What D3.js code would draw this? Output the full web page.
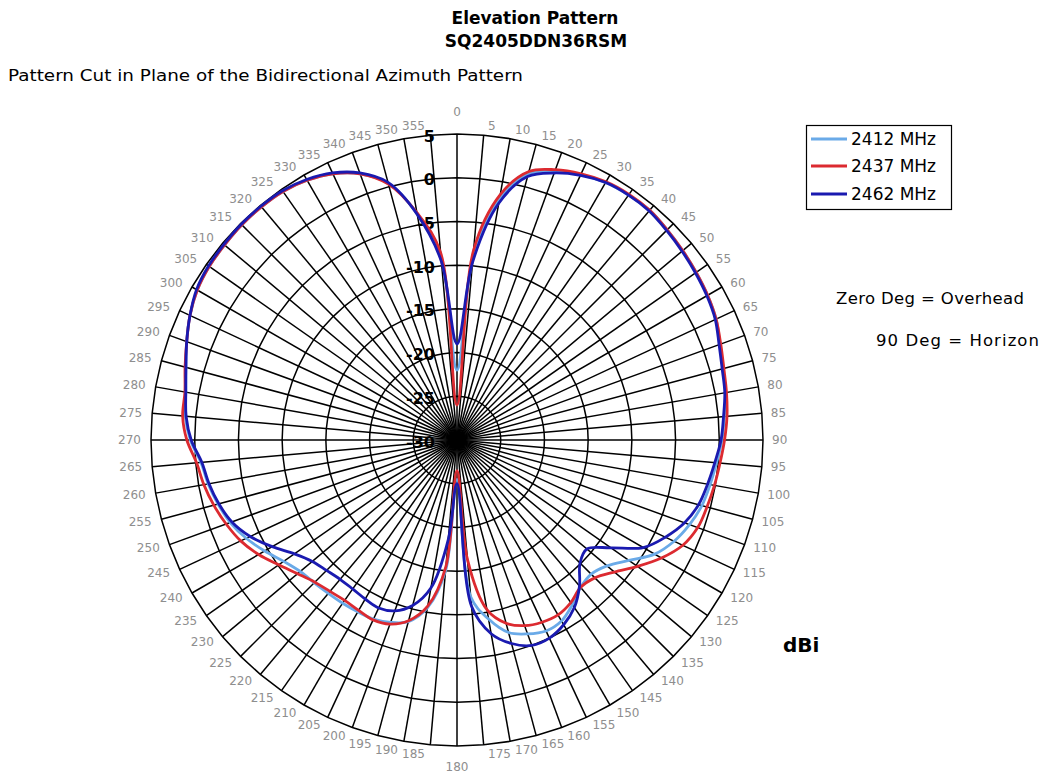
<!DOCTYPE html>
<html><head><meta charset="utf-8">
<script src="https://cdn.jsdelivr.net/npm/d3@7"></script>
<style>body{margin:0;background:#fff} svg{display:block;font-family:"DejaVu Sans",sans-serif}</style>
</head><body>
<svg id="chart" width="1050" height="778"></svg>
<script>
// ---------- data ----------
const angleLabels = [0,5,10,15,20,25,30,35,40,45,50,55,60,65,70,75,80,85,90,95,100,105,110,115,120,125,130,135,140,145,150,155,160,165,170,175,180,185,190,195,200,205,210,215,220,225,230,235,240,245,250,255,260,265,270,275,280,285,290,295,300,305,310,315,320,325,330,335,340,345,350,355];
const radialTicks = [-30,-25,-20,-15,-10,-5,0,5];
const seriesNames = ["2412 MHz","2437 MHz","2462 MHz"];
const seriesColors = ["#6aaae8","#dc2a30","#1a1ab0"];
const s2412 = [-22,-9.2,-2.0,1.5,2.7,3.5,4.0,4.2,4.3,4.0,3.7,3.4,3.1,2.7,2.0,1.5,1.2,0.7,0.3,-0.2,-0.6,-1.0,-1.7,-2.6,-3.9,-6.0,-7.6,-8.3,-8.0,-7.0,-6.1,-5.9,-6.4,-7.2,-9.2,-12.0,-25.5,-15,-10.5,-8.5,-7.8,-7.4,-7.3,-7.2,-7.1,-6.9,-6.6,-5.8,-4.6,-3.4,-2.4,-1.7,-1.1,-0.6,0.5,1.2,1.5,2.1,2.9,3.7,4.3,4.6,4.7,4.8,4.8,4.7,4.3,3.6,2.4,0.4,-3.7,-9.0];
const s2437 = [-26,-8.2,-1.5,1.8,2.9,3.6,4.1,4.3,4.3,4.0,3.7,3.4,3.1,2.7,2.1,1.6,1.3,1.0,0.6,0.2,-0.1,-0.4,-0.7,-1.5,-3.0,-4.8,-6.5,-7.7,-8.0,-7.3,-6.9,-7.0,-7.4,-8.3,-10.3,-16.3,-26.5,-15.5,-10.7,-8.6,-7.6,-7.3,-7.5,-7.6,-7.4,-7.0,-6.2,-5.1,-3.8,-2.7,-1.9,-1.2,-0.6,-0.1,0.9,1.5,1.6,2.2,2.9,3.7,4.3,4.6,4.7,4.8,4.8,4.7,4.3,3.6,2.4,0.3,-3.6,-8.5];
const s2462 = [-19,-9.6,-2.5,1.2,2.5,3.4,4.0,4.2,4.2,3.9,3.6,3.3,3.0,2.6,1.9,1.4,1.1,0.6,0.2,-0.4,-0.9,-1.4,-2.3,-3.7,-5.4,-8.5,-10.6,-10.1,-8.2,-6.6,-5.6,-5.0,-5.0,-5.9,-7.5,-10.9,-25,-18.6,-12.8,-10.4,-9.2,-8.8,-9.0,-9.2,-9.2,-8.9,-8.4,-7.3,-5.6,-3.9,-2.6,-1.8,-1.2,-0.7,0.4,1.1,1.5,2.1,2.9,3.7,4.4,4.7,4.8,4.9,4.9,4.8,4.4,3.7,2.5,0.5,-3.8,-9.5];
const seriesValues = [s2412, s2437, s2462];

// ---------- layout ----------
const svg = d3.select("#chart");
const cx = 457, cy = 440, R = 306;
const rScale = d3.scaleLinear().domain([-30, 5]).range([0, R]);
const aScale = d3.scaleLinear().domain([0, 360]).range([0, 2 * Math.PI]);
const g = svg.append("g").attr("transform", `translate(${cx},${cy})`);

// rings (polygons through every spoke)
const ring = d3.lineRadial().curve(d3.curveLinearClosed)
  .angle(d => aScale(d[0])).radius(d => rScale(d[1]));
radialTicks.filter(t => t > -30).forEach(t => {
  g.append("path").attr("d", ring(angleLabels.map(a => [a, t])))
    .attr("fill", "none").attr("stroke", "#000").attr("stroke-width", 1.5);
});
// spokes
g.selectAll("line.spoke").data(angleLabels).join("line").attr("class", "spoke")
  .attr("x1", 0).attr("y1", 0)
  .attr("x2", a => rScale(5) * Math.sin(aScale(a)))
  .attr("y2", a => -rScale(5) * Math.cos(aScale(a)))
  .attr("stroke", "#000").attr("stroke-width", 1.5);

// radial tick labels
g.selectAll("text.rt").data(radialTicks).join("text").attr("class", "rt")
  .attr("x", -22).attr("y", t => -rScale(t) + 2)
  .attr("text-anchor", "end").attr("dominant-baseline", "central")
  .attr("font-size", 16).attr("font-weight", "bold").attr("fill", "#000")
  .text(t => t);

// angle labels
g.selectAll("text.al").data(angleLabels).join("text").attr("class", "al")
  .each(function (a) {
    const th = aScale(a), s = Math.sin(th), c = Math.cos(th);
    const px = 311 * s, py = -311 * c;
    const t = d3.select(this);
    if (a === 0) { t.attr("x", px).attr("y", py - 17).attr("text-anchor", "middle"); }
    else if (a === 180) { t.attr("x", px).attr("y", py + 16).attr("text-anchor", "middle"); }
    else if (s > 0) { t.attr("x", px + 4).attr("y", py - 4 * c).attr("text-anchor", "start"); }
    else { t.attr("x", px - 5).attr("y", py - 4 * c).attr("text-anchor", "end"); }
  })
  .attr("dominant-baseline", "central").attr("font-size", 12).attr("fill", "#8e8e8e")
  .text(a => a);

// series
const line = d3.lineRadial().curve(d3.curveCatmullRomClosed.alpha(0.5))
  .angle((d, i) => aScale(angleLabels[i])).radius(d => rScale(d));
seriesValues.forEach((vals, k) => {
  g.append("path").attr("d", line(vals)).attr("fill", "none")
    .attr("stroke", seriesColors[k]).attr("stroke-width", 2.8)
    .attr("stroke-linejoin", "round");
});

// titles
svg.append("text").attr("x", 535).attr("y", 18).attr("text-anchor", "middle")
  .attr("dominant-baseline", "central").attr("font-size", 17).attr("font-weight", "bold")
  .text("Elevation Pattern");
svg.append("text").attr("x", 536).attr("y", 41).attr("text-anchor", "middle")
  .attr("dominant-baseline", "central").attr("font-size", 17).attr("font-weight", "bold")
  .text("SQ2405DDN36RSM");
svg.append("text").attr("x", 8).attr("y", 75)
  .attr("dominant-baseline", "central").attr("font-size", 16.5)
  .attr("textLength", 515).attr("lengthAdjust", "spacingAndGlyphs")
  .text("Pattern Cut in Plane of the Bidirectional Azimuth Pattern");

// legend
const lg = svg.append("g");
lg.append("rect").attr("x", 806.5).attr("y", 125.5).attr("width", 145).attr("height", 84)
  .attr("fill", "#fff").attr("stroke", "#000").attr("stroke-width", 1.2);
const legY = [139, 166, 194];
seriesNames.forEach((n, k) => {
  lg.append("line").attr("x1", 811).attr("x2", 847).attr("y1", legY[k]).attr("y2", legY[k])
    .attr("stroke", seriesColors[k]).attr("stroke-width", 3);
  lg.append("text").attr("x", 851).attr("y", legY[k]).attr("dominant-baseline", "central")
    .attr("font-size", 17).text(n);
});

// notes
svg.append("text").attr("x", 836).attr("y", 298).attr("dominant-baseline", "central")
  .attr("font-size", 16.5).attr("textLength", 188).attr("lengthAdjust", "spacing")
  .text("Zero Deg = Overhead");
svg.append("text").attr("x", 876).attr("y", 340).attr("dominant-baseline", "central")
  .attr("font-size", 16.5).attr("textLength", 163).attr("lengthAdjust", "spacing")
  .text("90 Deg = Horizon");
svg.append("text").attr("x", 783).attr("y", 645).attr("dominant-baseline", "central")
  .attr("font-size", 20).attr("font-weight", "bold").text("dBi");
</script>
</body></html>
